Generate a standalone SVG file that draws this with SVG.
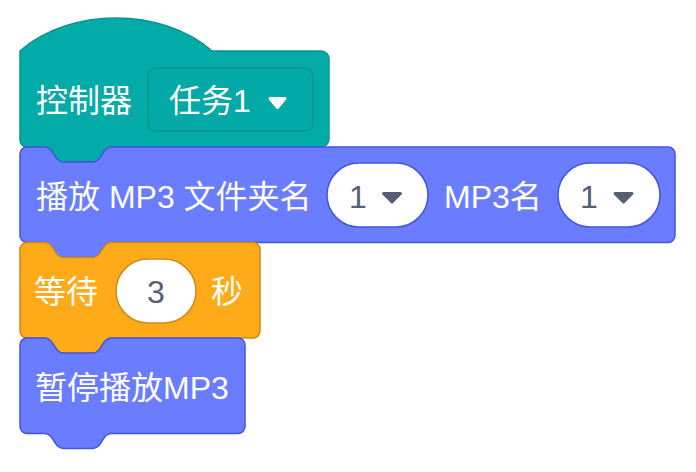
<svg xmlns="http://www.w3.org/2000/svg" width="696" height="472" viewBox="0 0 696 472">
<style>
.lbl{font-family:"Liberation Sans","Noto Sans CJK SC",sans-serif;font-size:32px;fill:#ffffff}
.val{font-family:"Liberation Sans","Noto Sans CJK SC",sans-serif;font-size:32px;fill:#575E75}
.teal{fill:#03ABA8;stroke:#0B9591;stroke-width:1.5}
.blue{fill:#6A7CFF;stroke:#4355E0;stroke-width:1.5}
.orange{fill:#FFAB19;stroke:#CF8B17;stroke-width:1.5}
.ovb{fill:#ffffff;stroke:#4355E0;stroke-width:1.5}
.ovo{fill:#ffffff;stroke:#CF8B17;stroke-width:1.5}
.tri{fill:#575E75;stroke:#575E75;stroke-width:3;stroke-linejoin:round}
.triw{fill:#ffffff;stroke:#ffffff;stroke-width:3;stroke-linejoin:round}
</style>
<g id="connectors"></g>
<g id="hat">
<path class="teal" d="M20,51 c50,-44 142,-44 192,0 H321 A8,8 0 0 1 329,59 V139 A8,8 0 0 1 321,147 H111 c-3,0 -4.5,1.5 -6,3 l-6,9 c-1.5,1.5 -3,3 -6,3 h-30 c-3,0 -4.5,-1.5 -6,-3 l-6,-9 c-1.5,-1.5 -3,-3 -6,-3 H27 A7,7 0 0 1 20,140 Z"/>
<text class="lbl" x="36" y="112">控制器</text>
<rect x="148" y="68" width="165" height="63" rx="8" fill="#03A9A6" stroke="#0A938F" stroke-width="1.5"/>
<text class="lbl" x="169" y="112">任务1</text>
<polygon class="triw" points="270,98.5 285,98.5 277.5,107.5"/>
</g>
<g id="play">
<path class="blue" d="M20,154 A7,7 0 0 1 27,147 H45 c3,0 4.5,1.5 6,3 l6,9 c1.5,1.5 3,3 6,3 h30 c3,0 4.5,-1.5 6,-3 l6,-9 c1.5,-1.5 3,-3 6,-3 H668 A7,7 0 0 1 675,154 V235.5 A7,7 0 0 1 668,242.5 H111 c-3,0 -4.5,1.5 -6,3 l-6,9 c-1.5,1.5 -3,3 -6,3 h-30 c-3,0 -4.5,-1.5 -6,-3 l-6,-9 c-1.5,-1.5 -3,-3 -6,-3 H27 A7,7 0 0 1 20,235.5 Z"/>
<text class="lbl" x="36" y="207.5" xml:space="preserve">播放 MP3 文件夹名</text>
<rect class="ovb" x="327" y="163" width="101" height="64" rx="32"/>
<text class="val" x="349" y="207.5">1</text>
<polygon class="tri" points="383.5,193.5 400.5,193.5 392,202"/>
<text class="lbl" x="444" y="207.5">MP3名</text>
<rect class="ovb" x="558" y="163" width="102" height="64" rx="32"/>
<text class="val" x="580" y="207.5">1</text>
<polygon class="tri" points="615,193.5 632,193.5 623.5,202"/>
</g>
<g id="wait">
<path class="orange" d="M20,249.5 A7,7 0 0 1 27,242.5 H45 c3,0 4.5,1.5 6,3 l6,9 c1.5,1.5 3,3 6,3 h30 c3,0 4.5,-1.5 6,-3 l6,-9 c1.5,-1.5 3,-3 6,-3 H253 A7,7 0 0 1 260,249.5 V331 A7,7 0 0 1 253,338 H111 c-3,0 -4.5,1.5 -6,3 l-6,9 c-1.5,1.5 -3,3 -6,3 h-30 c-3,0 -4.5,-1.5 -6,-3 l-6,-9 c-1.5,-1.5 -3,-3 -6,-3 H27 A7,7 0 0 1 20,331 Z"/>
<text class="lbl" x="34" y="303">等待</text>
<rect class="ovo" x="116" y="259" width="80" height="64" rx="32"/>
<text class="val" x="156" y="303" text-anchor="middle">3</text>
<text class="lbl" x="211" y="303">秒</text>
</g>
<g id="pause">
<path class="blue" d="M20,345 A7,7 0 0 1 27,338 H45 c3,0 4.5,1.5 6,3 l6,9 c1.5,1.5 3,3 6,3 h30 c3,0 4.5,-1.5 6,-3 l6,-9 c1.5,-1.5 3,-3 6,-3 H238 A7,7 0 0 1 245,345 V426.5 A7,7 0 0 1 238,433.5 H111 c-3,0 -4.5,1.5 -6,3 l-6,9 c-1.5,1.5 -3,3 -6,3 h-30 c-3,0 -4.5,-1.5 -6,-3 l-6,-9 c-1.5,-1.5 -3,-3 -6,-3 H27 A7,7 0 0 1 20,426.5 Z"/>
<text class="lbl" x="35" y="399">暂停播放MP3</text>
</g>
</svg>
